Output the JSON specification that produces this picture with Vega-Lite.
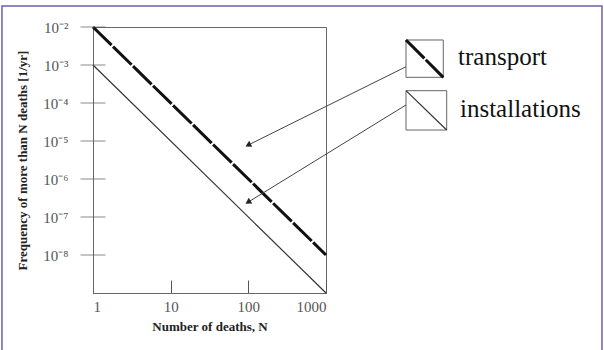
{
  "$schema": "https://vega.github.io/schema/vega-lite/v6.json",
  "width": 233,
  "height": 266,
  "autosize": {"type": "none"},
  "padding": {"left": 93, "top": 27, "right": 278, "bottom": 57},
  "background": "white",
  "config": {
    "font": "Liberation Serif",
    "view": {"stroke": "#666666", "strokeWidth": 1},
    "axis": {"domainColor": "#666666", "grid": false, "labelFont": "Liberation Serif", "titleFont": "Liberation Serif"}
  },
  "datasets": {
    "lines": [
      {"series": "transport", "N": 1, "f": 0.01},
      {"series": "transport", "N": 1000, "f": 1e-8},
      {"series": "installations", "N": 1, "f": 0.001},
      {"series": "installations", "N": 1000, "f": 1e-9}
    ],
    "yticks": [
      {"N": 1, "f": 0.01}, {"N": 1, "f": 0.001}, {"N": 1, "f": 0.0001}, {"N": 1, "f": 0.00001},
      {"N": 1, "f": 0.000001}, {"N": 1, "f": 1e-7}, {"N": 1, "f": 1e-8}
    ],
    "frame": [{"N0": 0.0673, "N1": 3575000, "fTop": 0.0357, "fBot": 1.74e-11}],
    "boxes": [
      {"series": "transport", "N0": 10715, "N1": 32360, "fTop": 0.00455, "fBot": 0.000474},
      {"series": "installations", "N0": 10715, "N1": 35810, "fTop": 0.000211, "fBot": 0.00001945}
    ],
    "legendText": [
      {"label": "transport", "N": 50120, "f": 0.001},
      {"label": "installations", "N": 53090, "f": 0.0000428}
    ],
    "arrows": [
      {"series": "transport", "N0": 10715, "f0": 0.000901, "N1": 99.3, "f1": 0.0000078},
      {"series": "installations", "N0": 10715, "f0": 0.0000886, "N1": 99.0, "f1": 2.45e-7}
    ]
  },
  "layer": [
    {
      "data": {"name": "frame"},
      "mark": {"type": "rect", "fill": null, "filled": false, "stroke": "#6a62a8", "strokeWidth": 1.5},
      "encoding": {
        "x": {"field": "N0", "type": "quantitative", "scale": {"type": "log", "domain": [1, 1000], "nice": false}, "axis": {"values": [1, 10, 100, 1000], "format": "d", "tickSize": -13, "tickColor": "#555555", "labelColor": "#555555", "labelFontSize": 15, "labelPadding": 19, "title": "Number of deaths, N", "titleFontSize": 13, "titleFontWeight": "bold", "titleColor": "#222222", "titlePadding": 6}},
        "x2": {"field": "N1"},
        "y": {"field": "fTop", "type": "quantitative", "scale": {"type": "log", "domain": [1e-9, 0.01], "nice": false}, "axis": {"values": [0.01, 0.001, 0.0001, 0.00001, 0.000001, 1e-7, 1e-8], "ticks": false, "labelColor": "#555555", "labelFontSize": 15, "labelPadding": 25, "labelExpr": "'10⁻' + ['⁰','¹','²','³','⁴','⁵','⁶','⁷','⁸','⁹'][round(-log(datum.value)/LN10)]", "title": "Frequency of more than N deaths [1/yr]", "titleFontSize": 13, "titleFontWeight": "bold", "titleColor": "#222222", "titleX": -71, "titleY": 133, "titleAngle": -90, "titleAlign": "center", "titleBaseline": "middle"}},
        "y2": {"field": "fBot"}
      }
    },
    {
      "data": {"name": "lines"},
      "transform": [{"filter": "datum.series == 'installations'"}],
      "mark": {"type": "line", "color": "#333333", "strokeWidth": 1.2},
      "encoding": {"x": {"field": "N", "type": "quantitative"}, "y": {"field": "f", "type": "quantitative"}}
    },
    {
      "data": {"name": "lines"},
      "transform": [{"filter": "datum.series == 'transport'"}],
      "mark": {"type": "line", "color": "#111111", "strokeWidth": 3, "strokeDash": [26, 2]},
      "encoding": {"x": {"field": "N", "type": "quantitative"}, "y": {"field": "f", "type": "quantitative"}}
    },
    {
      "data": {"name": "yticks"},
      "mark": {"type": "tick", "orient": "horizontal", "size": 25, "thickness": 1, "color": "#555555"},
      "encoding": {"x": {"field": "N", "type": "quantitative"}, "y": {"field": "f", "type": "quantitative"}}
    },
    {
      "data": {"name": "boxes"},
      "mark": {"type": "rect", "fill": "white", "stroke": "#666666", "strokeWidth": 1},
      "encoding": {
        "x": {"field": "N0", "type": "quantitative"}, "x2": {"field": "N1"},
        "y": {"field": "fTop", "type": "quantitative"}, "y2": {"field": "fBot"}
      }
    },
    {
      "data": {"name": "boxes"},
      "transform": [{"filter": "datum.series == 'transport'"}],
      "mark": {"type": "rule", "color": "#111111", "strokeWidth": 3, "strokeDash": [26, 2]},
      "encoding": {
        "x": {"field": "N0", "type": "quantitative"}, "x2": {"field": "N1"},
        "y": {"field": "fTop", "type": "quantitative"}, "y2": {"field": "fBot"}
      }
    },
    {
      "data": {"name": "boxes"},
      "transform": [{"filter": "datum.series == 'installations'"}],
      "mark": {"type": "rule", "color": "#333333", "strokeWidth": 1.2},
      "encoding": {
        "x": {"field": "N0", "type": "quantitative"}, "x2": {"field": "N1"},
        "y": {"field": "fTop", "type": "quantitative"}, "y2": {"field": "fBot"}
      }
    },
    {
      "data": {"name": "legendText"},
      "mark": {"type": "text", "align": "left", "baseline": "alphabetic", "fontSize": 25, "font": "Liberation Serif", "color": "#111111"},
      "encoding": {
        "x": {"field": "N", "type": "quantitative"},
        "y": {"field": "f", "type": "quantitative"},
        "text": {"field": "label"}
      }
    },
    {
      "data": {"name": "arrows"},
      "mark": {"type": "rule", "color": "#444444", "strokeWidth": 1},
      "encoding": {
        "x": {"field": "N0", "type": "quantitative"}, "x2": {"field": "N1"},
        "y": {"field": "f0", "type": "quantitative"}, "y2": {"field": "f1"}
      }
    },
    {
      "data": {"name": "arrows"},
      "transform": [{"filter": "datum.series == 'transport'"}],
      "mark": {"type": "point", "shape": "triangle-up", "filled": true, "size": 45, "color": "#222222", "opacity": 1, "angle": 243.6},
      "encoding": {"x": {"field": "N1", "type": "quantitative"}, "y": {"field": "f1", "type": "quantitative"}}
    },
    {
      "data": {"name": "arrows"},
      "transform": [{"filter": "datum.series == 'installations'"}],
      "mark": {"type": "point", "shape": "triangle-up", "filled": true, "size": 45, "color": "#222222", "opacity": 1, "angle": 238.4},
      "encoding": {"x": {"field": "N1", "type": "quantitative"}, "y": {"field": "f1", "type": "quantitative"}}
    }
  ]
}
